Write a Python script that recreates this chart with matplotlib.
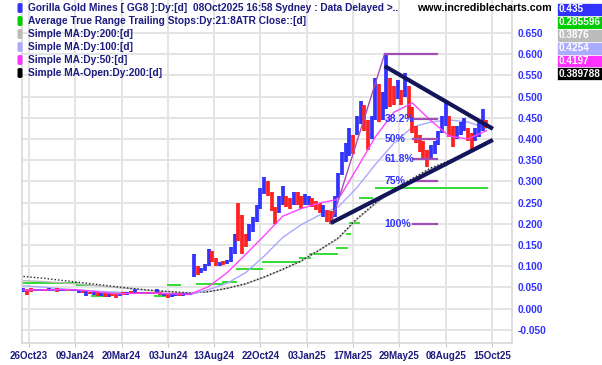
import matplotlib
matplotlib.use('Agg')
import matplotlib.pyplot as plt
import numpy as np
from matplotlib.patches import FancyBboxPatch, Rectangle

# ---------------- data ----------------
date_labels = ["26Oct23", "09Jan24", "20Mar24", "03Jun24", "13Aug24", "22Oct24",
               "03Jan25", "17Mar25", "29May25", "08Aug25", "15Oct25"]
date_tick_bar = [0, 50, 100, 150, 200, 250, 300, 350, 400, 450, 500]  # trading-day index

bar_first, bar_step = -6, 4
bar_hi = [0.048,0.046,0.048,0.047,0.046,0.047,0.046,0.048,0.047,0.048,
          0.046,0.047,0.046,0.047,0.046,0.044,0.043,0.042,0.040,0.041,
          0.040,0.038,0.039,0.036,0.037,0.035,0.038,0.039,0.040,0.041,
          0.047,0.040,0.039,0.040,0.039,0.040,0.047,0.040,0.038,0.036,
          0.037,0.038,0.037,0.036,0.036,0.036,0.130,0.100,0.095,0.105,
          0.140,0.135,0.120,0.110,0.112,0.115,0.145,0.175,0.250,0.220,
          0.175,0.200,0.215,0.245,0.285,0.310,0.300,0.275,0.240,0.265,
          0.290,0.265,0.260,0.275,0.275,0.265,0.270,0.265,0.260,0.255,
          0.248,0.245,0.232,0.230,0.265,0.320,0.370,0.390,0.425,0.410,
          0.455,0.490,0.480,0.445,0.455,0.545,0.530,0.510,0.600,0.545,
          0.525,0.540,0.515,0.555,0.525,0.475,0.430,0.410,0.395,0.375,
          0.385,0.395,0.420,0.455,0.490,0.455,0.430,0.430,0.440,0.450,
          0.425,0.415,0.425,0.440,0.470,0.445]
bar_lo = [0.040,0.033,0.040,0.042,0.041,0.042,0.041,0.042,0.041,0.040,
          0.041,0.042,0.042,0.041,0.041,0.037,0.036,0.029,0.034,0.032,
          0.030,0.030,0.028,0.027,0.030,0.024,0.031,0.033,0.033,0.034,
          0.036,0.034,0.034,0.035,0.034,0.034,0.036,0.032,0.030,0.026,
          0.028,0.031,0.030,0.031,0.032,0.032,0.075,0.080,0.085,0.088,
          0.100,0.110,0.100,0.100,0.102,0.105,0.110,0.130,0.160,0.130,
          0.145,0.160,0.180,0.205,0.235,0.270,0.265,0.230,0.200,0.225,
          0.245,0.240,0.235,0.245,0.245,0.235,0.245,0.245,0.240,0.232,
          0.225,0.215,0.205,0.200,0.215,0.260,0.315,0.345,0.360,0.365,
          0.410,0.435,0.420,0.375,0.400,0.445,0.440,0.445,0.470,0.475,
          0.480,0.495,0.480,0.500,0.450,0.415,0.390,0.370,0.355,0.335,
          0.350,0.365,0.385,0.415,0.430,0.405,0.380,0.400,0.410,0.420,
          0.395,0.375,0.395,0.405,0.420,0.425]
bar_up = [1,0,0,1,1,1,0,1,1,0, 1,1,0,1,1,1,0,1,0,1,
          0,1,0,1,0,0,1,0,1,0, 1,0,1,0,1,0,1,0,1,0,
          1,1,0,1,1,1,1,0,1,1, 1,0,0,1,0,1,1,1,0,0,
          0,1,1,1,1,1,0,0,0,1, 1,0,0,1,0,0,1,1,0,0,
          0,1,0,0,1,1,1,1,1,0, 1,1,0,0,1,1,0,1,1,0,
          0,1,0,1,0,0,0,0,0,0, 1,1,1,1,1,0,0,1,1,1,
          0,0,1,1,1,0]

ma_first, ma_step = -6, 20
ma50 = [0.044,0.044,0.045,0.044,0.040,0.035,0.036,0.037,0.035,0.034,0.052,0.085,0.128,
        0.172,0.218,0.236,0.249,0.258,0.330,0.405,0.463,0.485,0.443,0.407,0.400,0.4197]
ma100 = [0.054,0.051,0.047,0.044,0.041,0.039,0.038,0.037,0.035,0.033,0.045,0.060,0.085,
         0.124,0.168,0.198,0.221,0.240,0.285,0.340,0.390,0.428,0.440,0.445,0.440,0.4254]
ma200 = [0.066,0.064,0.061,0.058,0.054,0.050,0.046,0.042,0.039,0.037,0.040,0.048,0.058,
         0.074,0.092,0.112,0.138,0.165,0.210,0.247,0.280,0.305,0.330,0.347,0.365,0.3876]
ma200_open = [0.076,0.072,0.067,0.062,0.057,0.052,0.047,0.043,0.040,0.037,0.040,0.048,0.059,
              0.075,0.093,0.113,0.139,0.167,0.212,0.249,0.282,0.307,0.332,0.349,0.367,0.3898]

atr_from  = [-8, 52, 68, 87, 136, 150, 181, 210, 225, 253, 293, 303, 333, 343, 347, 357, 375]
atr_to    = [52, 66, 87, 137, 149, 163, 210, 224, 252, 293, 303, 333, 343, 347, 356, 370, 495]
atr_level = [0.061,0.056,0.031,0.038,0.031,0.055,0.057,0.062,0.094,0.110,0.120,0.130,
             0.142,0.176,0.202,0.261,0.2856]

fib_low, fib_high = 0.200, 0.600
fib_low_bar, fib_high_bar = 326, 384
fib_levels = [0.382, 0.5, 0.618, 0.75, 1.0]
fib_labels = ["38.2%", "50%", "61.8%", "75%", "100%"]

tri_upper = ([384, 501], [0.572, 0.424])
tri_lower = ([326, 501], [0.202, 0.398])

legend_names = ["Gorilla Gold Mines [ GG8 ]:Dy:[d]  08Oct2025 16:58 Sydney : Data Delayed >..",
                "Average True Range Trailing Stops:Dy:21:8ATR Close::[d]",
                "Simple MA:Dy:200:[d]", "Simple MA:Dy:100:[d]",
                "Simple MA:Dy:50:[d]", "Simple MA-Open:Dy:200:[d]"]
legend_colors = ["#3333ff", "#00cc00", "#bbbbbb", "#aaaaff", "#ff33ff", "#000000"]
value_texts = ["0.435", "0.285596", "0.3876", "0.4254", "0.4197", "0.389788"]

# ---------------- figure ----------------
W, H = 602, 365
fig = plt.figure(figsize=(W / 100, H / 100), dpi=100)
ax = fig.add_axes([22 / W, 1 - 343 / H, (512 - 22) / W, 343 / H])
ax.set_xlim(-7.56, 521.6)
ax.set_ylim(-0.081, 0.7278)

FONT = "Liberation Sans"
BLUE = "#3333ff"
RED = "#ff2222"
NAVY = "#1c1c80"
GRID = "#e4e4e4"
PURPLE = "#a24fb5"

yt = np.round(np.arange(-0.05, 0.651, 0.05), 3)
ax.set_yticks(yt)
ax.set_yticklabels([f"{v:.3f}" for v in yt])
ax.yaxis.tick_right()
ax.tick_params(axis='y', length=0, pad=4, labelcolor=BLUE, labelsize=7.4)
ax.set_xticks(date_tick_bar)
ax.set_xticklabels(date_labels)
ax.tick_params(axis='x', length=3, color="#cccccc", pad=2.5, labelcolor=NAVY, labelsize=7.0)
for lab in ax.get_xticklabels() + ax.get_yticklabels():
    lab.set_fontfamily(FONT)
    lab.set_fontweight('bold')
ax.grid(True, color=GRID, lw=1.4, zorder=0)
ax.set_axisbelow(True)
for s in ['left', 'bottom', 'right']:
    ax.spines[s].set_color("#d8d8d8")
    ax.spines[s].set_linewidth(1.2)
ax.spines['top'].set_visible(False)

# ATR trailing stop
for a, b, lv in zip(atr_from, atr_to, atr_level):
    ax.plot([a, b], [lv, lv], color="#33dd33", lw=1.4, zorder=2)

# moving averages
ma_x = np.arange(len(ma50)) * ma_step + ma_first
ax.plot(ma_x, ma200, color="#b8b8b8", lw=1.0, zorder=3)
ax.plot(ma_x, ma200_open, color="#222222", lw=1.0, ls=(0, (1, 1.5)), zorder=3)
ax.plot(ma_x, ma100, color="#a8a8ff", lw=1.0, zorder=3)

# price bars
bx = np.arange(len(bar_hi)) * bar_step + bar_first
cols = [BLUE if u else RED for u in bar_up]
ax.vlines(bx, bar_lo, bar_hi, colors=cols, lw=2.7, zorder=4)

ax.plot(ma_x, ma50, color="#ff44ff", lw=1.0, zorder=5)

# fibonacci
rng = fib_high - fib_low
ax.plot([fib_low_bar, fib_high_bar], [fib_low, fib_high], color=PURPLE, lw=1.0, zorder=5)
ax.plot([fib_high_bar, 441], [fib_high, fib_high], color=PURPLE, lw=1.6, zorder=5)
for f, lab in zip(fib_levels, fib_labels):
    lv = fib_high - f * rng
    ax.plot([415, 441], [lv, lv], color=PURPLE, lw=1.6, zorder=5)
    ax.text(fib_high_bar, lv, lab, color=BLUE, fontsize=7.6, fontweight='bold',
            fontfamily=FONT, va='center', ha='left', zorder=7)

# triangle
ax.plot(*tri_upper, color="#14145a", lw=3.0, solid_capstyle='butt', zorder=6)
ax.plot(*tri_lower, color="#14145a", lw=3.0, solid_capstyle='butt', zorder=6)

# ---------------- header texts ----------------
def fx(x):
    return x / W

def fy(y):
    return 1 - y / H

for i, (name, c) in enumerate(zip(legend_names, legend_colors)):
    yc = 8 + i * 13
    fig.add_artist(FancyBboxPatch((fx(17.5), fy(yc + 5)), 5 / W, 10 / H,
                                  boxstyle="round,pad=0,rounding_size=0.004",
                                  transform=fig.transFigure, facecolor=c,
                                  edgecolor='none', zorder=10))
    fig.text(fx(28), fy(yc), name, color=NAVY, fontsize=7.25, fontweight='bold',
             fontfamily=FONT, va='center', ha='left', zorder=10)

fig.text(fx(552), fy(8), "www.incrediblecharts.com", color="black", fontsize=7.7,
         fontweight='bold', fontfamily=FONT, va='center', ha='right', zorder=10)

for i, (t, c) in enumerate(zip(value_texts, legend_colors)):
    top = 3 + i * 12.9
    fig.add_artist(Rectangle((fx(557), fy(top + 12.9)), 45 / W, 12.9 / H,
                             transform=fig.transFigure, facecolor=c,
                             edgecolor='white', lw=0.5, zorder=10))
    fig.text(fx(559), fy(top + 6.5), t, color="white", fontsize=7.2, fontweight='bold',
             fontfamily=FONT, va='center', ha='left', zorder=11)

fig.savefig("out.png", dpi=100)
